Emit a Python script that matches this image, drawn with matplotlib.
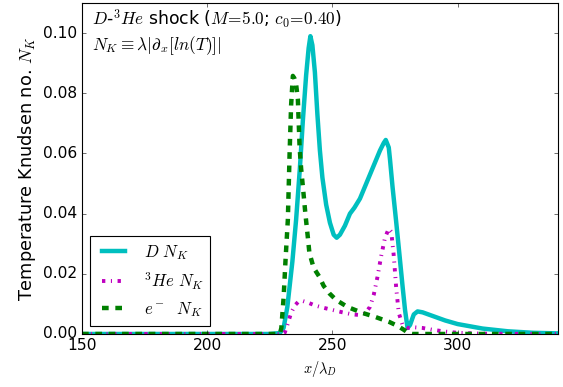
import matplotlib
matplotlib.use('Agg')
import matplotlib.pyplot as plt

# deuterium Knudsen number
x_d = [150, 225, 229, 230.5, 232, 234, 235.5, 237, 238.2, 239.5, 240.5, 241.2, 242, 243, 244,
       245, 246, 247.5, 249, 250.5, 251.7, 253, 255, 257, 258.8, 261, 263, 265, 267, 269,
       270.5, 271.3, 272.5, 273, 274, 275.5, 276.7, 278, 279, 280, 281, 282.5, 284, 286,
       290, 295, 300, 310, 320, 330, 340]
y_d = [0, 0, 0.0003, 0.002, 0.009, 0.024, 0.038, 0.055, 0.071, 0.086, 0.095, 0.099, 0.096, 0.087, 0.073,
       0.061, 0.052, 0.043, 0.037, 0.033, 0.032, 0.033, 0.036, 0.040, 0.042, 0.045, 0.049, 0.053, 0.057, 0.061,
       0.0635, 0.0645, 0.062, 0.058, 0.049, 0.037, 0.027, 0.016, 0.008, 0.002, 0.003, 0.0065, 0.0075, 0.0072,
       0.006, 0.0045, 0.0033, 0.0018, 0.0009, 0.0004, 0.0002]

# helium-3 Knudsen number
x_he = [150, 230, 231, 232, 233.5, 235, 236.5, 238, 240, 243, 246, 250, 254, 258, 261, 263, 265,
        266.5, 268, 269.5, 271, 272.5, 273.5, 274.5, 275.5, 276.5, 278, 280, 283, 286, 290,
        295, 300, 310, 340]
y_he = [0, 0, 0.0005, 0.003, 0.007, 0.0095, 0.0108, 0.011, 0.0105, 0.0095, 0.0088, 0.008, 0.0072, 0.0065,
        0.0063, 0.0068, 0.009, 0.013, 0.019, 0.026, 0.032, 0.035, 0.034, 0.026, 0.015, 0.007, 0.003,
        0.002, 0.0022, 0.002, 0.0014, 0.0008, 0.0004, 0.0001, 0]

# electron Knudsen number
x_e = [150, 229, 229.6, 230.5, 231.3, 232.2, 232.9, 233.5, 234.2, 234.8, 235.5, 236.2, 236.9, 237.5,
       238.2, 239.2, 240.2, 240.8, 242.5, 244.8, 246.5, 248.8, 251.5, 256, 262, 267, 272.7, 276,
       278.7, 280.5, 282, 340]
y_e = [0, 0, 0.002, 0.012, 0.025, 0.038, 0.060, 0.076, 0.0858, 0.085, 0.083, 0.078, 0.062, 0.055,
       0.049, 0.040, 0.032, 0.027, 0.022, 0.019, 0.016, 0.0135, 0.0113, 0.009, 0.007, 0.0057, 0.004, 0.0027,
       0.0013, 0.0002, 0, 0]

plt.style.use('classic')
fig = plt.figure(figsize=(563 / 80, 387 / 80), dpi=80)
ax = fig.add_axes([0.1457, 0.137, 0.845, 0.855])

ax.plot(x_d, y_d, color='c', lw=4, label=r'$D\ N_K$')
ax.plot(x_he, y_he, color='m', lw=3.5, ls='-.', label=r'$^3He\ N_K$')
ax.plot(x_e, y_e, color='g', lw=4, ls='--', label=r'$e^-\ \ N_K$')

ax.set_xlim(150, 340)
ax.set_ylim(0, 0.11)
ax.set_yticks([0, 0.02, 0.04, 0.06, 0.08, 0.10])
ax.set_xticks([150, 200, 250, 300])
ax.tick_params(labelsize=14)
ax.set_xlabel(r'$x/\lambda_D$', fontsize=13)
ax.set_ylabel(r'Temperature Knudsen no. $N_K$', fontsize=16)

ax.text(0.02, 0.985, r'$D$-$^3He$ shock ($M\!=\!5.0$; $c_0\!=\!0.40$)' + '\n' +
        r'$N_K \equiv \lambda|\partial_x[ln(T)]|$',
        transform=ax.transAxes, va='top', ha='left', fontsize=15.5)

ax.legend(loc='lower left', fontsize=15)

fig.savefig('out.png', dpi=80)
